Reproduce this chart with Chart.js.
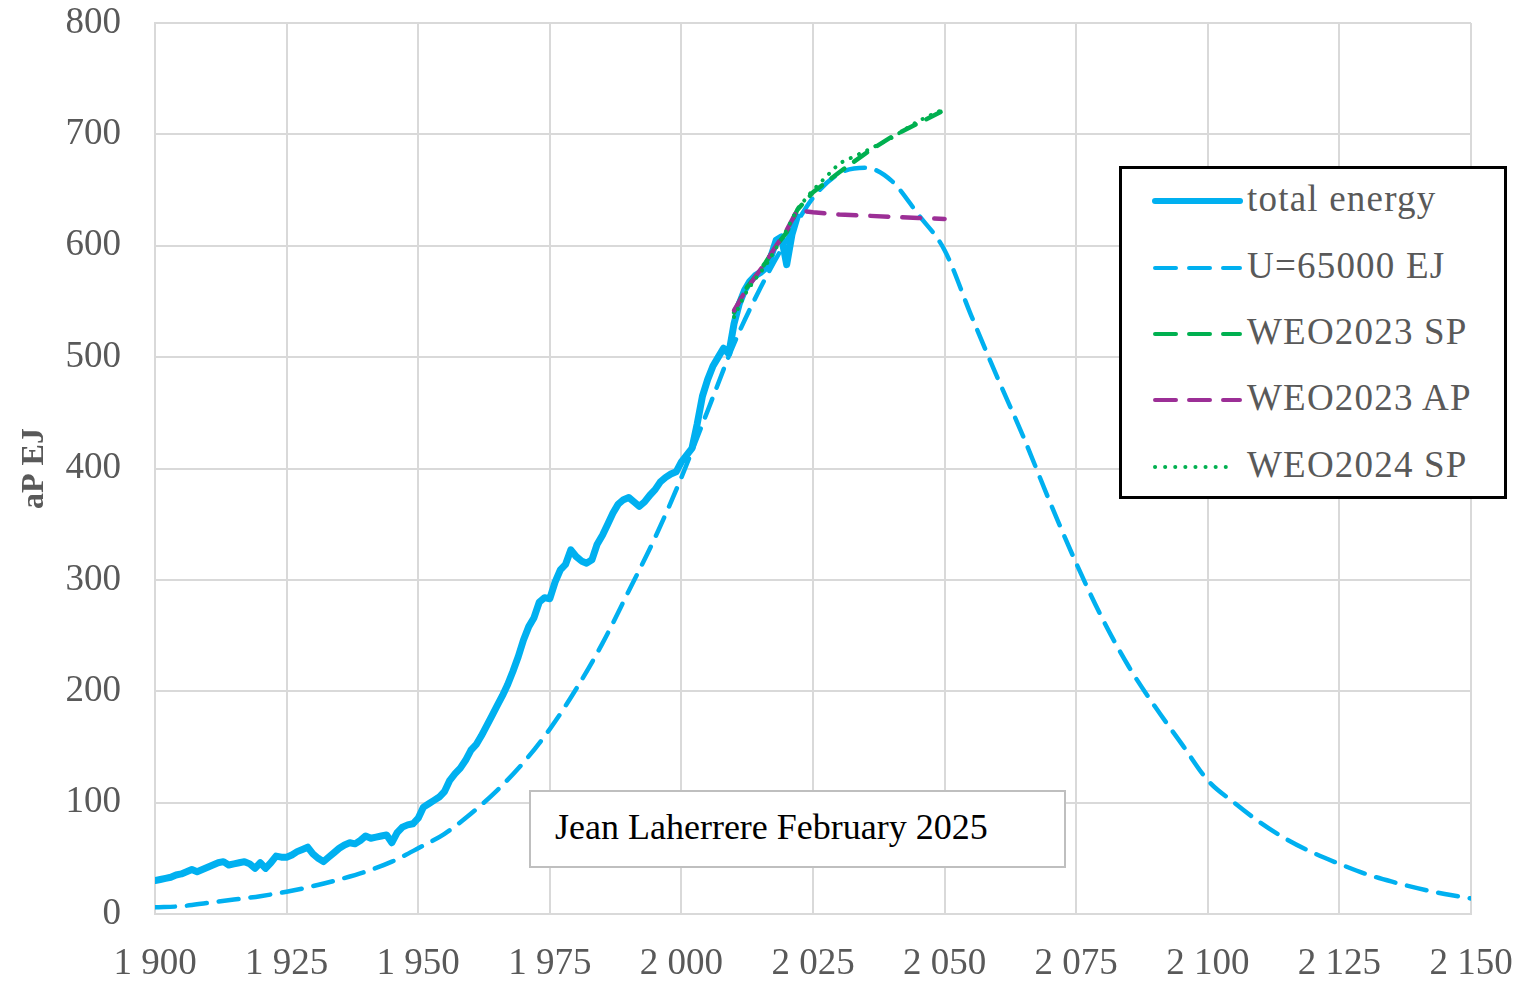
<!DOCTYPE html>
<html>
<head>
<meta charset="utf-8">
<script src="https://cdn.jsdelivr.net/npm/chart.js@4.4.1/dist/chart.umd.min.js"></script>
<style>
  html, body { margin: 0; padding: 0; background: #fff; }
  #wrap { position: relative; width: 1522px; height: 984px; }
  #chart { position: absolute; left: 0; top: 0; }
  .box { position: absolute; background: #fff; font-family: "Liberation Serif", "DejaVu Serif", serif; }
  #note { left: 529px; top: 790px; width: 533px; height: 74px; border: 2px solid #bfbfbf; }
  #note span { position: absolute; left: 24px; top: 14px; font-size: 36px; color: #000; white-space: nowrap; }
  #legend { left: 1119px; top: 166px; width: 382px; height: 327px; border: 3px solid #000; }
  .row { position: absolute; left: 0; height: 40px; width: 380px; }
  .row svg { position: absolute; left: 30px; top: 15px; }
  .row span { position: absolute; left: 125px; top: -2px; font-size: 37px; letter-spacing: 1.2px; color: #595959; white-space: nowrap; line-height: 40px; }
</style>
</head>
<body>
<div id="wrap">
  <canvas id="chart" width="1522" height="984"></canvas>
  <div id="note" class="box"><span>Jean Laherrere February 2025</span></div>
  <div id="legend" class="box"></div>
</div>
<script>
/* world total energy, aP EJ, history + Hubbert-type model + WEO scenarios */

var HIST_START = 1900;
var totalEnergy = [
    30, 31, 32, 33, 35, 36, 38, 40, 38, 40,
    42, 44, 46, 47, 44, 45, 46, 47, 45, 41,
    46, 41, 46, 52, 51, 51, 53, 56, 58, 60,
    54, 50, 47, 51, 55, 59, 62, 64, 63, 66,
    70, 68, 69, 70, 71, 64, 73, 78, 80, 81,
    86, 96, 99, 102, 105, 110, 120, 126, 131, 138,
    147, 152, 160, 169, 178, 187, 196, 206, 218, 231,
    246, 258, 266, 280, 284, 283, 298, 309, 314, 327,
    321, 317, 315, 318, 332, 340, 350, 360, 368, 372,
    374, 370, 366, 370, 376, 381, 388, 392, 395, 397,
    406, 412, 418, 440, 465, 480, 492, 500, 508, 503,
    530, 548, 560, 568, 573, 576, 580, 590, 605, 608,
    583, 610, 626
];

var modelYears = [
    1900, 1905, 1910, 1915, 1920, 1925, 1930, 1935, 1940, 1945,
    1950, 1955, 1960, 1965, 1970, 1975, 1980, 1985, 1990, 1995,
    2000, 2005, 2010, 2015, 2020, 2025, 2030, 2035, 2040, 2045,
    2050, 2055, 2060, 2065, 2070, 2075, 2080, 2085, 2090, 2095,
    2100, 2105, 2110, 2115, 2120, 2125, 2130, 2135, 2140, 2145, 2150
];
var modelU65000 = [
    6, 7, 10, 13, 16, 20, 25, 31, 38, 47,
    59, 72, 90, 111, 136, 166, 202, 243, 290, 338,
    392, 452, 512, 562, 605, 643, 665, 670, 658, 628,
    596, 538, 482, 428, 370, 315, 265, 222, 186, 153,
    120, 100, 82, 67, 55, 45, 36, 29, 23, 18, 14
];

var weoYears = [2010, 2012, 2014, 2016, 2018, 2020, 2022, 2025, 2030, 2035, 2040, 2045, 2050];
var weo2023SP = [540, 560, 572, 585, 600, 612, 632, 648, 666, 683, 698, 710, 722];
var weo2023AP = [542, 558, 572, 585, 600, 614, 632, 630, 628, 627, 626, 625, 624];
var weo2024SP = [536, 556, 570, 582, 598, 614, 633, 650, 674, 685, 697, 712, 723];

var yTicks = [0, 100, 200, 300, 400, 500, 600, 700, 800];
var xTicks = [1900, 1925, 1950, 1975, 2000, 2025, 2050, 2075, 2100, 2125, 2150];

var BLUE = '#00B0F0', GREEN = '#00B050', PURPLE = '#9C2F96', GREY = '#595959';
var SERIF = '"Liberation Serif", "DejaVu Serif", serif';

function pairs(xs, ys) {
    return ys.map(function(v, i) { return { x: xs[i], y: v }; });
}
function histPairs() {
    return totalEnergy.map(function(v, i) { return { x: HIST_START + i, y: v }; });
}
function spaceYear(v) {
    var s = String(v);
    return s.charAt(0) + '\u00a0' + s.slice(1);
}

var series = [
    { label: 'total energy', data: histPairs(), color: BLUE, width: 7, dash: [], order: 5 },
    { label: 'U=65000 EJ', data: pairs(modelYears, modelU65000), color: BLUE, width: 4.5, dash: [20, 12], order: 4, smooth: true },
    { label: 'WEO2023 SP', data: pairs(weoYears, weo2023SP), color: GREEN, width: 4.5, dash: [16, 12], order: 3 },
    { label: 'WEO2023 AP', data: pairs(weoYears, weo2023AP), color: PURPLE, width: 4.5, dash: [18, 14], order: 2 },
    { label: 'WEO2024 SP', data: pairs(weoYears, weo2024SP), color: GREEN, width: 4, dash: [0.1, 9], order: 1 }
];

// drop the automatic label padding so the plot area sits where the layout padding says
function noPad(scale) {
    scale.paddingTop = 0; scale.paddingBottom = 0;
    scale.paddingLeft = 0; scale.paddingRight = 0;
}

new Chart(document.getElementById('chart'), {
    type: 'line',
    data: {
        datasets: series.map(function(s) {
            return {
                label: s.label,
                data: s.data,
                borderColor: s.color,
                backgroundColor: s.color,
                borderWidth: s.width,
                borderDash: s.dash,
                borderCapStyle: 'round',
                borderJoinStyle: 'round',
                pointRadius: 0,
                fill: false,
                order: s.order,
                cubicInterpolationMode: s.smooth ? 'monotone' : 'default',
                tension: 0
            };
        })
    },
    options: {
        responsive: false,
        animation: false,
        layout: { padding: { top: 23, right: 51, left: 0, bottom: 0 } },
        plugins: { legend: { display: false }, tooltip: { enabled: false } },
        scales: {
            x: {
                type: 'linear',
                min: 1900, max: 2150,
                afterFit: function(scale) { scale.height = 70; noPad(scale); },
                afterBuildTicks: function(scale) { scale.ticks = xTicks.map(function(v) { return { value: v }; }); },
                grid: { color: '#d9d9d9', lineWidth: 2, drawTicks: false },
                border: { color: '#d9d9d9', width: 2 },
                ticks: {
                    padding: 28, maxRotation: 0, autoSkip: false,
                    color: GREY, font: { family: SERIF, size: 37 },
                    callback: function(v) { return spaceYear(v); }
                }
            },
            y: {
                min: 0, max: 800,
                afterFit: function(scale) { scale.width = 155; noPad(scale); },
                afterBuildTicks: function(scale) { scale.ticks = yTicks.map(function(v) { return { value: v }; }); },
                grid: { color: '#d9d9d9', lineWidth: 2, drawTicks: false },
                border: { color: '#d9d9d9', width: 2 },
                ticks: { padding: 34, color: GREY, font: { family: SERIF, size: 37 } },
                title: {
                    display: true, text: 'aP EJ', color: GREY, padding: { top: 16, bottom: 0 },
                    font: { family: SERIF, size: 32, weight: 'bold' }
                }
            }
        }
    }
});

// legend box drawn as html with svg line samples
var legend = document.getElementById('legend');
var rowTops = [12, 79, 145, 211, 278];
series.forEach(function(s, i) {
    var row = document.createElement('div');
    row.className = 'row';
    row.style.top = rowTops[i] + 'px';
    var dashAttr = '';
    if (s.label === 'WEO2024 SP') dashAttr = ' stroke-dasharray="0.1 10"';
    else if (s.dash.length) dashAttr = ' stroke-dasharray="21 13"';
    var x2 = s.label === 'WEO2024 SP' ? 83 : 88;
    row.innerHTML =
        '<svg width="94" height="10"><line x1="3" y1="5" x2="' + x2 + '" y2="5" stroke="' + s.color +
        '" stroke-width="' + (s.width >= 6 ? 6 : 4) + '" stroke-linecap="round"' + dashAttr + '/></svg>' +
        '<span>' + s.label + '</span>';
    legend.appendChild(row);
});
</script>
</body>
</html>
